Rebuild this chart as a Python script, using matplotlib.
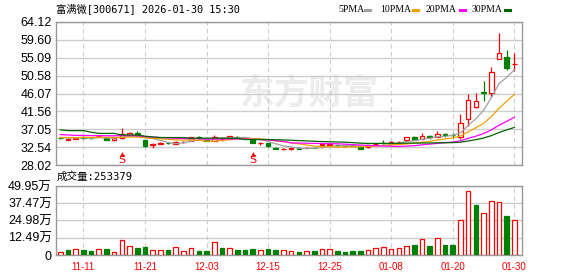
import numpy as np
import matplotlib
matplotlib.use('Agg')
from matplotlib import pyplot as plt
from matplotlib.lines import Line2D

plt.rcParams['font.family'] = ['Liberation Sans', 'Noto Sans CJK SC']

title = '富满微[300671] 2026-01-30 15:30'
vol_title = '成交量:253379'

tick_idx = [3, 11, 19, 27, 35, 43, 51, 59]
tick_labels = ['11-11', '11-21', '12-03', '12-15', '12-25', '01-08', '01-20', '01-30']

price_ticks = [28.02, 32.54, 37.05, 41.56, 46.07, 50.58, 55.09, 59.60, 64.12]
vol_ticks = [0, 12.49, 24.98, 37.47, 49.95]
vol_tick_labels = ['0', '12.49万', '24.98万', '37.47万', '49.95万']

# daily k-line, 60 sessions
opens = [34.9, 34.45, 34.7, 35.0, 34.85, 35.3, 34.8, 34.3, 34.8, 35.6,
         36.2, 34.36, 33.1, 33.4, 33.6, 33.3, 33.8, 34.2, 35.05, 34.5,
         34.2, 34.55, 34.6, 35.15, 34.95, 34.3, 33.55, 33.65, 32.3, 31.95,
         32.05, 32.35, 32.3, 32.4, 33.05, 33.1, 33.1, 33.0, 32.95, 32.5,
         32.5, 33.2, 33.65, 33.35, 33.8, 34.36, 35.19, 34.69, 35.25, 35.19,
         35.85, 35.7, 35.19, 39.64, 42.58, 46.45, 46.11, 54.66, 55.16, 53.4]
closes = [34.8, 34.65, 34.85, 34.8, 34.75, 35.4, 34.45, 34.75, 35.8, 36.2,
          35.4, 32.7, 33.3, 33.6, 33.5, 33.9, 33.95, 35.0, 34.95, 34.2,
          35.2, 34.65, 35.3, 35.05, 34.8, 33.55, 33.7, 32.7, 32.1, 32.15,
          32.2, 32.15, 32.4, 32.25, 33.2, 33.25, 32.95, 32.9, 32.85, 32.15,
          33.0, 33.3, 33.55, 33.9, 33.95, 35.04, 34.36, 35.36, 35.1, 35.79,
          35.7, 35.55, 38.56, 44.42, 44.17, 46.3, 51.39, 56.32, 52.55, 53.55]
highs = [35.0, 34.75, 34.95, 35.3, 35.0, 35.6, 34.9, 34.8, 37.4, 36.4,
         36.5, 34.4, 33.6, 33.8, 33.7, 34.0, 34.1, 35.1, 35.4, 34.6,
         35.6, 35.2, 35.4, 35.4, 35.0, 34.4, 33.9, 33.7, 32.5, 32.3,
         32.35, 32.45, 32.6, 32.5, 33.5, 33.35, 33.2, 33.1, 33.0, 32.6,
         33.1, 33.5, 34.3, 34.0, 34.2, 35.1, 35.3, 36.05, 35.6, 36.6,
         36.2, 36.05, 40.82, 45.86, 46.11, 49.2, 52.8, 61.35, 57.0, 56.32]
lows = [34.7, 34.35, 34.6, 34.7, 34.6, 35.1, 34.4, 34.2, 34.6, 35.5,
        35.3, 32.6, 32.3, 33.3, 33.35, 33.2, 33.7, 34.1, 34.7, 34.1,
        34.0, 34.1, 34.5, 34.8, 34.7, 33.5, 33.1, 32.6, 32.0, 31.7,
        31.85, 32.1, 32.2, 32.2, 32.3, 33.0, 32.9, 32.8, 32.75, 32.0,
        32.4, 33.1, 33.2, 33.3, 33.7, 34.3, 34.3, 34.5, 34.6, 35.1,
        35.2, 34.8, 34.69, 37.96, 42.5, 44.17, 45.25, 54.66, 51.97, 51.79]

# volume in 万 shares, colour follows close vs previous close
volumes = [1.9, 3.6, 4.1, 3.6, 2.9, 4.1, 4.3, 2.2, 10.6, 6.5,
           5.1, 5.8, 3.4, 3.4, 3.6, 5.5, 2.7, 4.8, 2.9, 2.9,
           9.2, 5.1, 4.8, 3.6, 3.6, 4.3, 3.4, 4.3, 3.6, 3.4,
           2.7, 2.2, 2.7, 2.9, 4.1, 4.1, 2.9, 2.2, 2.9, 2.9,
           3.4, 4.8, 5.5, 4.1, 4.8, 6.3, 7.2, 11.4, 6.5, 12.1,
           7.2, 7.2, 25.1, 46.1, 36.2, 30.2, 38.9, 38.2, 28.2, 25.34]
vol_up = [1, 0, 1, 0, 0, 1, 0, 1, 1, 1,
          0, 0, 1, 1, 0, 1, 1, 1, 0, 0,
          1, 0, 1, 0, 0, 0, 1, 0, 0, 1,
          1, 0, 1, 0, 1, 1, 0, 0, 0, 0,
          1, 1, 1, 1, 1, 1, 0, 1, 0, 1,
          0, 0, 1, 1, 0, 1, 1, 1, 0, 1]

ma5 = [34.9, 34.85, 34.85, 34.85, 34.77, 34.89, 34.85, 34.83, 35.03, 35.32,
       35.32, 34.97, 34.68, 34.24, 33.7, 33.4, 33.65, 33.99, 34.26, 34.4,
       34.66, 34.8, 34.86, 34.88, 35.0, 34.67, 34.48, 33.96, 33.37, 32.84,
       32.57, 32.26, 32.2, 32.23, 32.44, 32.65, 32.81, 32.91, 33.03, 32.82,
       32.77, 32.84, 32.97, 33.18, 33.54, 33.95, 34.16, 34.52, 34.76, 35.13,
       35.26, 35.5, 36.14, 38.0, 39.68, 41.8, 44.97, 48.52, 50.15, 52.02]
ma10 = [35.0, 34.95, 34.95, 35.0, 35.0, 35.05, 35.0, 35.0, 35.05, 35.05,
        35.1, 34.91, 34.76, 34.64, 34.51, 34.36, 34.31, 34.34, 34.25, 34.05,
        34.03, 34.23, 34.43, 34.57, 34.7, 34.67, 34.64, 34.41, 34.13, 33.92,
        33.62, 33.37, 33.08, 32.8, 32.64, 32.61, 32.54, 32.56, 32.63, 32.63,
        32.71, 32.83, 32.94, 33.11, 33.18, 33.36, 33.5, 33.75, 33.97, 34.34,
        34.61, 34.83, 35.33, 36.38, 37.41, 38.53, 40.23, 42.33, 44.08, 45.85]
ma20 = [35.7, 35.6, 35.5, 35.5, 35.45, 35.45, 35.4, 35.4, 35.45, 35.45,
        35.4, 35.2, 35.05, 34.95, 34.85, 34.75, 34.7, 34.7, 34.65, 34.55,
        34.57, 34.57, 34.6, 34.6, 34.58, 34.5, 34.46, 34.35, 34.17, 33.97,
        33.6, 33.57, 33.53, 33.47, 33.45, 33.42, 33.38, 33.27, 33.17, 33.06,
        32.96, 32.9, 32.81, 32.75, 32.71, 32.8, 32.9, 33.1, 33.29, 33.48,
        33.66, 33.82, 34.13, 34.74, 35.29, 35.94, 36.86, 38.04, 39.02, 40.09]
ma30 = [36.9, 36.7, 36.7, 36.7, 36.3, 36.0, 36.0, 36.0, 35.6, 35.6,
        35.6, 35.3, 35.1, 34.95, 34.95, 34.95, 34.95, 34.8, 34.8, 34.8,
        34.8, 34.8, 34.8, 34.8, 34.45, 34.45, 34.45, 34.45, 34.4, 34.35,
        34.27, 34.19, 34.11, 34.01, 33.94, 33.88, 33.83, 33.77, 33.67, 33.53,
        33.45, 33.47, 33.48, 33.49, 33.5, 33.54, 33.56, 33.57, 33.57, 33.63,
        33.64, 33.67, 33.78, 34.09, 34.41, 34.83, 35.42, 36.21, 36.88, 37.5]

signal_idx = [8, 25]

RED = '#ff0000'
GREEN = '#008000'
ma_names = ['5PMA', '10PMA', '20PMA', '30PMA']
ma_colors = ['#a0a0a0', '#f0a000', '#ff00ff', '#006400']

W, H = 578, 276
fig = plt.figure(figsize=(W / 100, H / 100), dpi=100)
ax = fig.add_axes([56 / W, 1 - 165 / H, 466 / W, 143 / H])
axv = fig.add_axes([56 / W, 1 - 255 / H, 466 / W, 69 / H])

x = np.arange(len(closes))
o = np.array(opens)
c = np.array(closes)
up = c >= o
cols = np.where(up, RED, GREEN)

# watermark
ax.text(0.543, 0.5, '东方财富', transform=ax.transAxes, ha='center', va='center',
        fontsize=25, fontweight='bold', color='#ececec', family=['Noto Sans CJK SC'], zorder=0)

ax.vlines(x, lows, highs, colors=cols, lw=0.9, zorder=2)
ax.bar(x, np.abs(c - o), 0.6, bottom=np.minimum(o, c),
       color=np.where(up, 'white', GREEN), edgecolor=cols, lw=0.9, zorder=3)

for vals, colr in zip([ma5, ma10, ma20, ma30], ma_colors):
    ax.plot(x, vals, color=colr, lw=0.9, zorder=4)

for i in signal_idx:
    ax.plot(i, 30.9, marker='^', ms=3.5, color=RED, mew=0, zorder=5)
    ax.vlines(i, 30.2, 30.75, colors=RED, lw=0.9, zorder=5)
    ax.text(i, 29.25, 'S', color=RED, ha='center', va='center', fontsize=8,
            family=['DejaVu Sans'], zorder=5)

vcols = [RED if u else GREEN for u in vol_up]
vface = ['white' if u else GREEN for u in vol_up]
axv.bar(x, volumes, 0.6, color=vface, edgecolor=vcols, lw=0.9, zorder=3)

for a in (ax, axv):
    a.set_xlim(-0.56, 60.0)
    a.set_xticks(tick_idx)
    a.grid(axis='y', color='#cccccc', lw=1, ls='-', zorder=0)
    a.grid(axis='x', color='#cccccc', lw=0.8, ls=(0, (4, 3)), zorder=0)
    a.set_axisbelow(True)
    for s in a.spines.values():
        s.set_color('#999999')
        s.set_linewidth(1)
    a.tick_params(length=0, labelsize=9, pad=3)

ax.set_ylim(28.02, 64.12)
ax.set_yticks(price_ticks)
ax.set_yticklabels(['%.2f' % v for v in price_ticks])
ax.set_xticklabels([])

axv.set_ylim(0, 49.95)
axv.set_yticks(vol_ticks)
axv.set_yticklabels(vol_tick_labels)
axv.set_xticklabels(tick_labels, color=RED, fontsize=7)
axv.tick_params(axis='x', pad=5)

head_font = ['DejaVu Sans Mono', 'Noto Sans CJK SC']
fig.text(56 / W, 1 - 9 / H, title, fontsize=7.4, va='center', ha='left', family=head_font)
fig.text(57 / W, 1 - 177 / H, vol_title, fontsize=7.6, va='center', ha='left', family=head_font)

# legend row at the top right
lx = [338, 380.5, 426, 471.5]
dash_x = [365, 413, 460, 505]
for name, colr, px, dx in zip(ma_names, ma_colors, lx, dash_x):
    fig.text(px / W, 1 - 9 / H, name, fontsize=7, va='center', ha='left',
             family=['Liberation Serif'])
    fig.add_artist(Line2D([dx / W, (dx + 5) / W], [1 - 9.5 / H, 1 - 9.5 / H],
                          transform=fig.transFigure, color=colr, lw=2.2))

fig.savefig('out.png', dpi=100)
